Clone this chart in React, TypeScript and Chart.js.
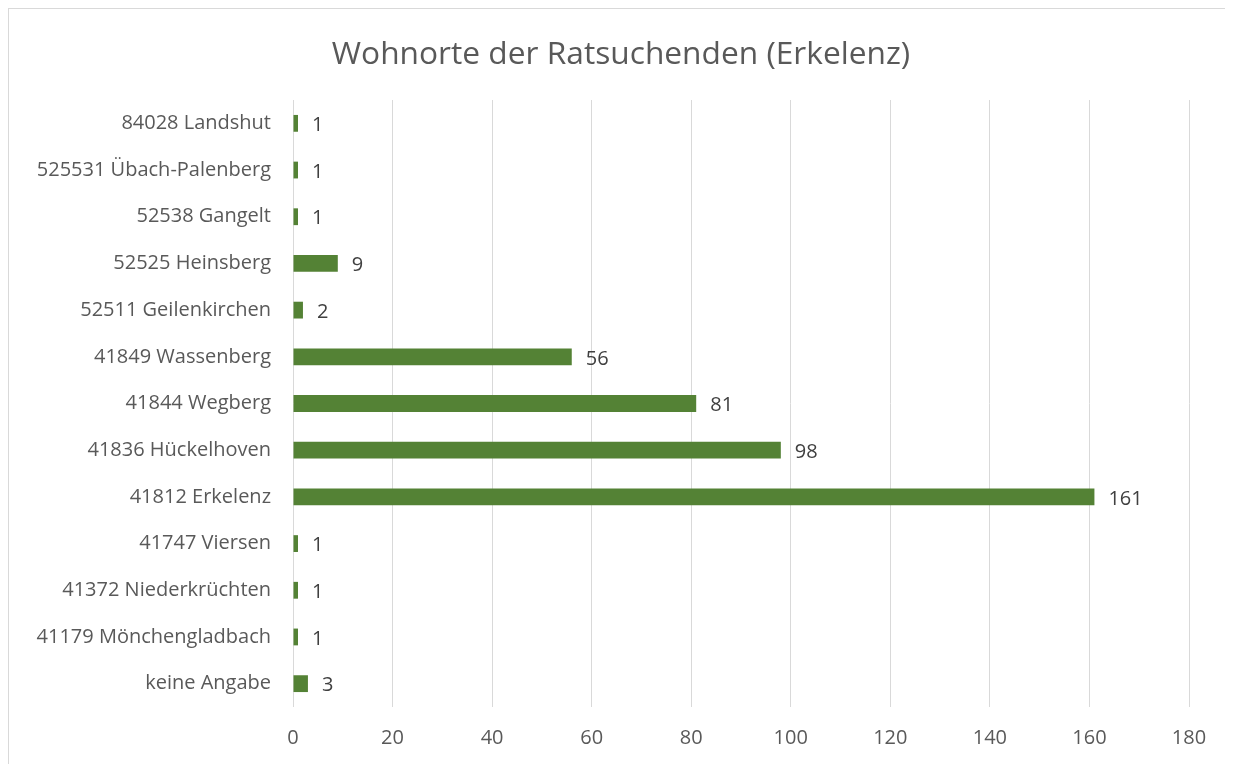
import React, { useEffect, useRef } from "react";
import { Chart, registerables } from "chart.js";

Chart.register(...registerables);

const categories = [
  "84028 Landshut",
  "525531 Übach-Palenberg",
  "52538 Gangelt",
  "52525 Heinsberg",
  "52511 Geilenkirchen",
  "41849 Wassenberg",
  "41844 Wegberg",
  "41836 Hückelhoven",
  "41812 Erkelenz",
  "41747 Viersen",
  "41372 Niederkrüchten",
  "41179 Mönchengladbach",
  "keine Angabe",
];
const values = [1, 1, 1, 9, 2, 56, 81, 98, 161, 1, 1, 1, 3];
const titleText = "Wohnorte der Ratsuchenden (Erkelenz)";
const xMin = 0;
const xMax = 180;
const xStep = 20;

const FONT = "'Open Sans', sans-serif";

const dataLabels = {
  id: "dataLabels",
  afterDatasetsDraw(chart: any) {
    const ctx = chart.ctx;
    const meta = chart.getDatasetMeta(0);
    ctx.save();
    ctx.fillStyle = "#404040";
    ctx.font = `20px ${FONT}`;
    ctx.textAlign = "left";
    ctx.textBaseline = "middle";
    meta.data.forEach((bar: any, i: number) => {
      ctx.fillText(String(values[i]), bar.x + 14, bar.y + 2);
    });
    ctx.restore();
  },
};

const centeredTitle = {
  id: "centeredTitle",
  afterDraw(chart: any) {
    const ctx = chart.ctx;
    ctx.save();
    ctx.fillStyle = "#595959";
    ctx.font = `31.7px ${FONT}`;
    ctx.textAlign = "center";
    ctx.textBaseline = "middle";
    ctx.fillText(titleText, chart.width / 2, 46);
    ctx.restore();
  },
};

export default function App() {
  const ref = useRef<HTMLCanvasElement | null>(null);
  useEffect(() => {
    if (!ref.current) return;
    const chart = new Chart(ref.current, {
      type: "bar",
      data: {
        labels: categories,
        datasets: [
          {
            data: values,
            backgroundColor: "#548235",
            categoryPercentage: 1,
            barPercentage: 0.36,
          },
        ],
      },
      options: {
        indexAxis: "y",
        animation: false,
        responsive: true,
        maintainAspectRatio: false,
        layout: { padding: { top: 91, right: 44, bottom: 14, left: 0 } },
        plugins: {
          legend: { display: false },
          tooltip: { enabled: false },
          title: { display: false },
        },
        scales: {
          x: {
            min: xMin,
            max: xMax,
            ticks: {
              stepSize: xStep,
              color: "#595959",
              font: { family: FONT, size: 20 },
              padding: 19,
            },
            grid: { color: "#d9d9d9", drawTicks: false },
            border: { display: false },
            afterFit: (axis: any) => {
              axis.height = 43;
            },
          },
          y: {
            ticks: {
              color: "#595959",
              font: { family: FONT, size: 20 },
              padding: 22,
            },
            grid: { display: false, drawTicks: false },
            border: { display: false },
            afterFit: (axis: any) => {
              axis.width = 284;
            },
          },
        },
      },
      plugins: [dataLabels, centeredTitle],
    });
    return () => chart.destroy();
  }, []);
  return (
    <div
      style={{
        width: 1225,
        height: 756,
        borderTop: "1px solid #d9d9d9",
        borderLeft: "1px solid #d9d9d9",
        boxSizing: "border-box",
        position: "relative",
        background: "#fff",
      }}
    >
      <canvas ref={ref} />
    </div>
  );
}
